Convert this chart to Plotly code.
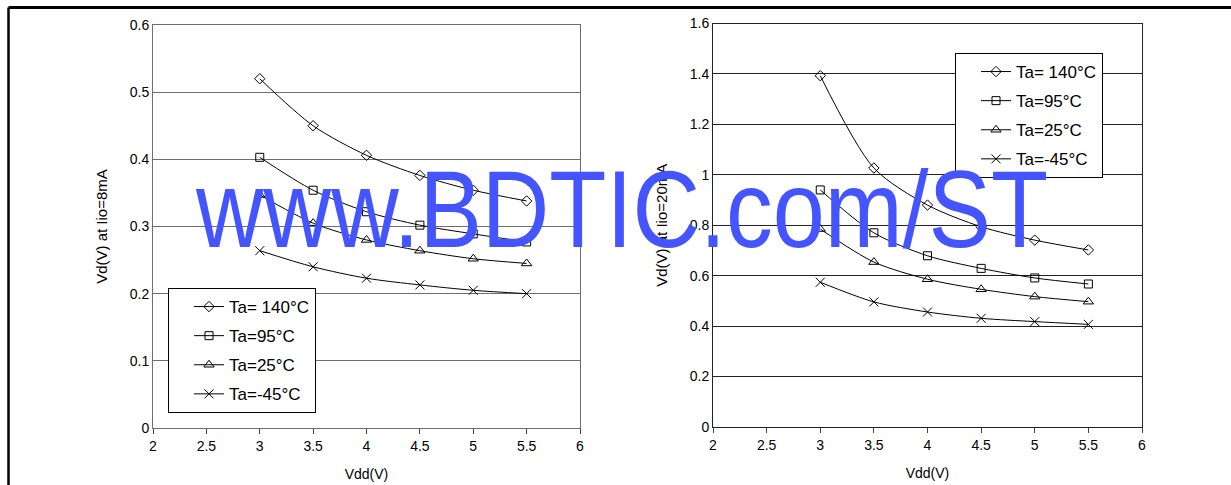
import plotly.graph_objects as go

W, H = 1231, 485

vdd = [3.0, 3.5, 4.0, 4.5, 5.0, 5.5]
series_names = ["Ta= 140°C", "Ta=95°C", "Ta=25°C", "Ta=-45°C"]

# Left chart: Vd(V) at Iio=8mA
left_140 = [0.520, 0.450, 0.406, 0.376, 0.354, 0.338]
left_95 = [0.403, 0.354, 0.322, 0.302, 0.289, 0.277]
left_25 = [0.347, 0.305, 0.280, 0.264, 0.252, 0.245]
left_m45 = [0.264, 0.240, 0.223, 0.213, 0.205, 0.200]

# Right chart: Vd(V) at Iio=20mA
right_140 = [1.393, 1.027, 0.880, 0.794, 0.741, 0.702]
right_95 = [0.940, 0.770, 0.679, 0.629, 0.591, 0.567]
right_25 = [0.785, 0.654, 0.586, 0.546, 0.517, 0.497]
right_m45 = [0.574, 0.496, 0.456, 0.431, 0.418, 0.407]

x_ticks = [2, 2.5, 3, 3.5, 4, 4.5, 5, 5.5, 6]
x_tick_labels = ["2", "2.5", "3", "3.5", "4", "4.5", "5", "5.5", "6"]
left_y_ticks = [0, 0.1, 0.2, 0.3, 0.4, 0.5, 0.6]
left_y_labels = ["0", "0.1", "0.2", "0.3", "0.4", "0.5", "0.6"]
right_y_ticks = [0, 0.2, 0.4, 0.6, 0.8, 1.0, 1.2, 1.4, 1.6]
right_y_labels = ["0", "0.2", "0.4", "0.6", "0.8", "1", "1.2", "1.4", "1.6"]

symbols = ["diamond-open", "square-open", "triangle-up-open", "x-thin-open"]
marker_sizes = [8, 8, 9, 9]

FONT = "Liberation Sans, Arial, sans-serif"

fig = go.Figure()

def px_x(p):
    return p / W

def px_y(p):
    return 1 - p / H

for data, xa, ya, leg in [
    ([left_140, left_95, left_25, left_m45], "x", "y", "legend"),
    ([right_140, right_95, right_25, right_m45], "x2", "y2", "legend2"),
]:
    for i, (vals, name) in enumerate(zip(data, series_names)):
        fig.add_trace(go.Scatter(
            x=vdd, y=vals, name=name, xaxis=xa, yaxis=ya, legend=leg,
            legendgroup=f"{leg}_{i}",
            mode="lines+markers",
            line=dict(color="black", width=1, shape="spline", smoothing=0.8),
            marker=dict(symbol=symbols[i], size=marker_sizes[i], color="black",
                        line=dict(color="black", width=1)),
        ))

axis_common = dict(
    range=[2, 6], tickvals=x_ticks, ticktext=x_tick_labels,
    ticks="outside", ticklen=5, tickcolor="#444", showgrid=False,
    showline=True, mirror=True, zeroline=False,
    tickfont=dict(family=FONT, size=14, color="black"),
    title_font=dict(family=FONT, size=14, color="black"),
    fixedrange=True, automargin=False,
)

fig.update_layout(
    width=W, height=H,
    margin=dict(l=0, r=0, t=0, b=0, pad=0, autoexpand=False),
    paper_bgcolor="white", plot_bgcolor="white",
    showlegend=True,
    xaxis=dict(domain=[px_x(153), px_x(580)], anchor="y", linecolor="#6e6e6e",
               title=dict(text="Vdd(V)", standoff=16), **axis_common),
    yaxis=dict(domain=[px_y(428), px_y(25)], anchor="x", range=[0, 0.6],
               tickvals=left_y_ticks, ticktext=left_y_labels,
               showgrid=True, gridcolor="#6e6e6e", gridwidth=1,
               showline=True, mirror=True, linecolor="#6e6e6e", zeroline=False,
               ticks="", tickfont=dict(family=FONT, size=14, color="black"),
               title=dict(text="Vd(V) at Iio=8mA", standoff=18,
                          font=dict(family=FONT, size=15, color="black")),
               fixedrange=True, automargin=False),
    xaxis2=dict(domain=[px_x(713), px_x(1142)], anchor="y2", linecolor="#222",
                title=dict(text="Vdd(V)", standoff=16), **axis_common),
    yaxis2=dict(domain=[px_y(427), px_y(23.5)], anchor="x2", range=[0, 1.6],
                tickvals=right_y_ticks, ticktext=right_y_labels,
                showgrid=True, gridcolor="#222", gridwidth=1,
                showline=True, mirror=True, linecolor="#222", zeroline=False,
                ticks="", tickfont=dict(family=FONT, size=14, color="black"),
                title=dict(text="Vd(V) at Iio=20mA", standoff=18,
                           font=dict(family=FONT, size=15, color="black")),
                fixedrange=True, automargin=False),
    legend=dict(x=px_x(168), y=px_y(288), xanchor="left", yanchor="top",
                bgcolor="white", bordercolor="black", borderwidth=1,
                font=dict(family=FONT, size=17, color="black"),
                traceorder="grouped", tracegroupgap=4, indentation=20),
    legend2=dict(x=px_x(955), y=px_y(53), xanchor="left", yanchor="top",
                 bgcolor="white", bordercolor="black", borderwidth=1,
                 font=dict(family=FONT, size=17, color="black"),
                 traceorder="grouped", tracegroupgap=4, indentation=20),
)

# outer frame lines
fig.add_shape(type="line", xref="paper", yref="paper",
              x0=px_x(8.5), x1=1.0, y0=px_y(7.5), y1=px_y(7.5),
              line=dict(color="black", width=3))
fig.add_shape(type="line", xref="paper", yref="paper",
              x0=px_x(8.5), x1=px_x(8.5), y0=px_y(7.5), y1=0,
              line=dict(color="black", width=2.5))

# watermark
fig.add_annotation(
    text="www.BDTIC.com/ST", xref="paper", yref="paper",
    x=px_x(621), y=px_y(208), xanchor="center", yanchor="middle",
    showarrow=False,
    font=dict(family="Liberation Sans, Arial, sans-serif", size=110, color="#4455FF"),
)

post_js = """
document.documentElement.style.margin='0';
document.body.style.margin='0';
document.body.style.overflow='hidden';
var gd = document.getElementById('{plot_id}');
gd.querySelectorAll('.annotation-text').forEach(function(el){
  if (el.textContent.indexOf('BDTIC') >= 0) {
    el.style.transformBox = 'fill-box';
    el.style.transformOrigin = 'center';
    el.style.transform = 'scaleX(0.85)';
  }
});
"""

fig.write_html("out.html", post_script=post_js, config={"displayModeBar": False})
